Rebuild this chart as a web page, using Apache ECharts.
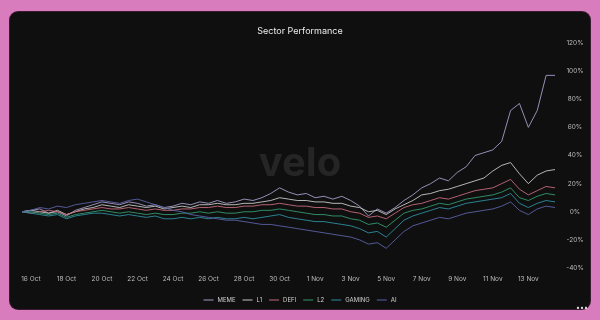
<!DOCTYPE html>
<html>
<head>
<meta charset="utf-8">
<script src="https://cdn.jsdelivr.net/npm/echarts@6/dist/echarts.min.js"></script>
<style>
html,body{margin:0;padding:0;width:600px;height:320px;overflow:hidden;background:#d87cbd;}
#panel{position:absolute;left:10px;top:12px;width:580px;height:297px;background:#0f0f0f;border-radius:8px;box-shadow:0 0 0 1px #3a1a30;}
#chart{position:absolute;left:0;top:0;width:600px;height:320px;}
</style>
</head>
<body>
<div id="panel"></div>
<div id="chart"></div>
<script>
// Tick labels shown on the x axis
const xTickLabels = ['16 Oct','18 Oct','20 Oct','22 Oct','24 Oct','26 Oct','28 Oct','30 Oct','1 Nov','3 Nov','5 Nov','7 Nov','9 Nov','11 Nov','13 Nov'];
const yTickLabels = ['-40%','-20%','0%','20%','40%','60%','80%','100%','120%'];
const seriesNames = ['MEME','L1','DEFI','L2','GAMING','AI'];

// 12-hourly samples, 15 Oct 12:00 -> 14 Nov 12:00 (% change)
const meme   = [0,1,2,-1,0,-3,1,3,5,7,6,5,7,6,4,5,3,4,6,5,7,6,8,6,7,9,8,10,13,17,14,12,13,10,11,9,11,8,4,-3,2,-1,3,8,12,17,20,24,22,28,32,40,42,44,50,72,77,60,72,97,97];
const l1     = [0,1,0,-1,1,-2,0,2,3,5,4,3,5,4,3,4,2,3,4,3,5,5,6,5,5,6,6,7,8,10,9,8,8,7,7,6,6,4,3,0,1,-2,2,5,8,12,13,15,16,18,20,22,24,29,33,35,27,20,26,29,30];
const defi   = [0,-1,0,1,0,-2,0,1,2,3,2,2,3,2,1,2,1,1,2,2,3,3,4,3,3,4,4,5,5,6,5,4,4,3,3,2,2,0,-1,-4,-3,-5,-1,3,5,6,8,10,9,11,13,15,16,17,20,23,16,12,15,18,17];
const l2     = [0,0,-1,-2,-1,-4,-2,-1,0,1,0,-1,0,-1,-2,-1,-2,-2,-1,-1,0,-1,0,-1,-1,0,0,1,1,2,1,0,-1,-2,-2,-3,-3,-5,-6,-9,-8,-11,-6,-1,1,2,4,6,5,7,9,10,11,12,14,17,10,8,11,13,12];
const gaming = [0,-1,-2,-3,-2,-5,-3,-2,-1,-1,-2,-3,-2,-3,-4,-3,-5,-5,-4,-5,-4,-5,-4,-5,-5,-4,-5,-4,-3,-2,-4,-5,-6,-7,-7,-8,-9,-10,-12,-15,-14,-18,-12,-6,-3,-1,1,3,2,4,6,7,8,9,10,13,6,3,6,8,7];
const ai     = [0,1,3,2,4,3,5,6,7,8,7,6,8,9,7,5,3,1,0,-2,-3,-4,-5,-6,-6,-7,-8,-9,-9,-10,-11,-12,-13,-14,-15,-16,-17,-18,-20,-23,-22,-26,-20,-14,-10,-8,-6,-4,-5,-3,-1,0,1,2,4,7,1,-2,2,4,3];

const colors = ['#a59cc8','#c8c8c8','#c56a7c','#33996f','#2f8ea0','#5b62a6'];
const values = [meme,l1,defi,l2,gaming,ai];

// categories (timestamps every 12h)
const months = ['Jan','Feb','Mar','Apr','May','Jun','Jul','Aug','Sep','Oct','Nov','Dec'];
const categories = [];
const t0 = Date.UTC(2024,9,15,12);
for (let i = 0; i < meme.length; i++) {
  const d = new Date(t0 + i*12*3600*1000);
  categories.push(d.getUTCDate() + ' ' + months[d.getUTCMonth()] + '|' + d.getUTCHours());
}

const chart = echarts.init(document.getElementById('chart'), null, {renderer:'canvas'});
const FONT = 'Inter, Lato, sans-serif';
chart.setOption({
  animation:false,
  backgroundColor:'transparent',
  title:{text:'Sector Performance',left:'center',top:22,textStyle:{color:'#ececec',fontSize:9,fontWeight:'normal',fontFamily:FONT}},
  graphic:[
    {type:'text',left:'center',top:144,z:0,silent:true,style:{text:'velo',fill:'#252525',fontSize:40,fontWeight:'bold',fontFamily:FONT}},
    {type:'text',left:576,top:304,style:{text:'•••',fill:'#dddddd',fontSize:7,fontFamily:FONT}}
  ],
  legend:{data:seriesNames,top:292,left:'center',icon:'rect',itemWidth:10,itemHeight:1,itemGap:7,
    textStyle:{color:'#cfcfcf',fontSize:6,fontFamily:FONT,padding:[0,0,0,-1]}},
  grid:{left:22,right:45,top:43,bottom:52},
  xAxis:{type:'category',data:categories,boundaryGap:false,
    axisLine:{show:false},axisTick:{show:false},splitLine:{show:false},
    axisLabel:{color:'#bdbdbd',fontSize:6.5,fontFamily:FONT,margin:8,
      interval:function(idx,val){const p=val.split('|');return p[1]==='0' && xTickLabels.indexOf(p[0])>=0;},
      formatter:function(val){return val.split('|')[0];}}},
  yAxis:{type:'value',position:'right',min:-40,max:120,interval:20,
    axisLine:{show:false},axisTick:{show:false},splitLine:{show:false},
    axisLabel:{color:'#bdbdbd',fontSize:6.5,fontFamily:FONT,margin:20,align:'center',
      formatter:function(v){return yTickLabels[(v+40)/20];}}},
  series:seriesNames.map((n,k)=>({name:n,type:'line',data:values[k],symbol:'none',showSymbol:false,
    color:colors[k],lineStyle:{width:1,color:colors[k],opacity:0.9},emphasis:{disabled:true},z:2}))
});
</script>
</body>
</html>
